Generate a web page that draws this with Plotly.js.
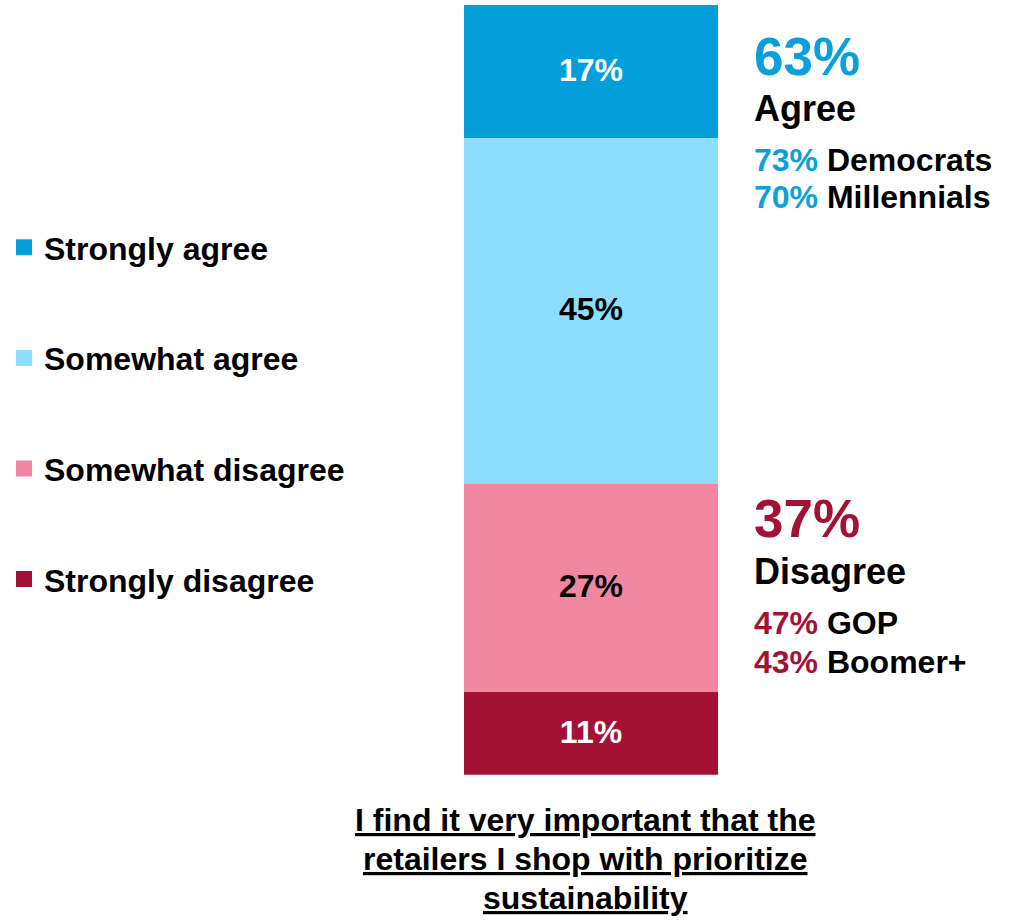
<!DOCTYPE html>
<html>
<head>
<meta charset="utf-8">
<script src="https://cdn.plot.ly/plotly-3.0.1.min.js"></script>
<style>html,body{margin:0;padding:0;background:#fff;}#chart{width:1013px;height:922px;}</style>
</head>
<body>
<div id="chart"></div>
<script>
// ---- data ----
const categories = ['Strongly disagree', 'Somewhat disagree', 'Somewhat agree', 'Strongly agree'];
const values = [11, 27, 45, 17];
const barLabel = ['I find it very important that the', 'retailers I shop with prioritize', 'sustainability'];
const agreeTotal = 63;
const agreeGroups = ['Democrats', 'Millennials'];
const agreeValues = [73, 70];
const disagreeTotal = 37;
const disagreeGroups = ['GOP', 'Boomer+'];
const disagreeValues = [47, 43];

// ---- styles ----
const FONT = 'Liberation Sans, Arial, sans-serif';
const barColors = ['#A31235', '#F287A2', '#8DDEFE', '#039FDA'];
const labelColors = ['#FFFFFF', '#000000', '#000000', '#FFFFFF'];
const BLUE = '#0BA0DA';
const RED = '#A31235';
const W = 1013, H = 922;
const px = v => v / W;
const py = v => (H - v) / H;

const traces = categories.map((c, i) => ({
  type: 'bar',
  name: c,
  legendgroup: c,
  legendrank: categories.length - i,
  x: [0],
  y: [values[i]],
  width: [1],
  marker: { color: barColors[i], line: { color: barColors[i], width: 4 } },
  texttemplate: '%{y}%',
  textposition: 'inside',
  insidetextanchor: 'middle',
  textangle: 0,
  constraintext: 'none',
  textfont: { family: FONT, size: 32, weight: 'bold', color: labelColors[i] },
  hoverinfo: 'name+y'
}));

const annotations = [];
function note(text, xPix, yPix, size, color) {
  annotations.push({
    xref: 'paper', yref: 'paper', x: px(xPix), y: py(yPix),
    xanchor: 'left', yanchor: 'middle', showarrow: false,
    text: text,
    font: { family: FONT, size: size, weight: 'bold', color: color }
  });
}
note(agreeTotal + '%', 752, 56, 53, BLUE);
note('Agree', 752, 108, 36, '#000');
agreeGroups.forEach((g, i) => {
  note('<span style="color:' + BLUE + '">' + agreeValues[i] + '%</span> ' + g, 752, 160 + i * 37, 32, '#000');
});
note(disagreeTotal + '%', 752, 518, 53, RED);
note('Disagree', 752, 571, 36, '#000');
disagreeGroups.forEach((g, i) => {
  note('<span style="color:' + RED + '">' + disagreeValues[i] + '%</span> ' + g, 752, 623 + i * 39, 32, '#000');
});
barLabel.forEach((t, i) => {
  annotations.push({
    xref: 'paper', yref: 'paper', x: px(585), y: py(820 + i * 39),
    xanchor: 'center', yanchor: 'middle', showarrow: false,
    text: t,
    font: { family: FONT, size: 32, weight: 'bold', color: '#000', lineposition: 'under' }
  });
});

const layout = {
  width: W, height: H,
  margin: { l: 0, r: 0, t: 0, b: 0 },
  paper_bgcolor: '#fff', plot_bgcolor: '#fff',
  barmode: 'stack', bargap: 0,
  showlegend: true,
  legend: {
    x: px(4), xanchor: 'left', y: py(413.5), yanchor: 'middle',
    traceorder: 'grouped', tracegroupgap: 66,
    font: { family: FONT, size: 32, weight: 'bold', color: '#000' },
    bgcolor: 'rgba(0,0,0,0)', itemclick: false, itemdoubleclick: false
  },
  xaxis: { domain: [px(464), px(718)], range: [-0.5, 0.5], visible: false, fixedrange: true },
  yaxis: { domain: [py(774.5), py(5)], range: [0, 100], visible: false, fixedrange: true },
  annotations: annotations
};

Plotly.newPlot('chart', traces, layout, { displayModeBar: false, staticPlot: true });
</script>
</body>
</html>
